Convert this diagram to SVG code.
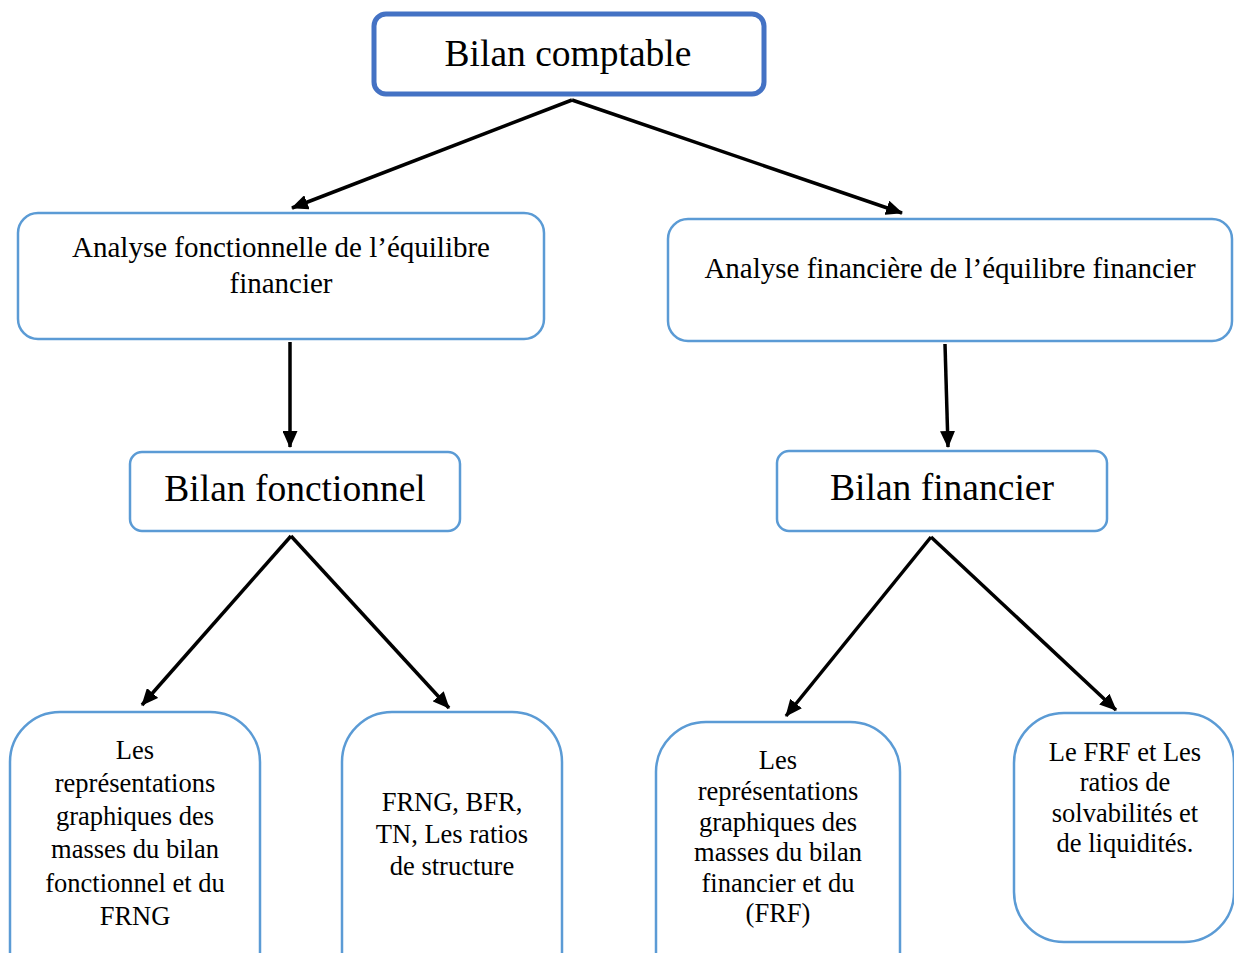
<svg xmlns="http://www.w3.org/2000/svg" width="1234" height="953" viewBox="0 0 1234 953">
<defs>
<marker id="ah" markerUnits="userSpaceOnUse" markerWidth="17" markerHeight="15" refX="16" refY="7.5" orient="auto">
<path d="M0,0 L17,7.5 L0,15 Z" fill="#000"/>
</marker>
<style>
.box{fill:#fff;stroke:#5B9BD5;stroke-width:2.5}
.top{fill:#fff;stroke:#4472C4;stroke-width:5}
text{font-family:"Liberation Serif","Times New Roman",serif;fill:#000;text-anchor:middle}
.big{font-size:37.5px}
.mid{font-size:29px}
.sm{font-size:26.5px}
.con line{stroke:#000;stroke-width:3.5;marker-end:url(#ah)}
</style>
</defs>
<rect width="1234" height="953" fill="#fff"/>
<g class="con">
<line x1="572" y1="100" x2="292" y2="208"/>
<line x1="572" y1="100" x2="902" y2="213"/>
<line x1="290" y1="342" x2="290" y2="447"/>
<line x1="945" y1="344" x2="948" y2="447"/>
<line x1="291" y1="536" x2="142" y2="705"/>
<line x1="291" y1="536" x2="449" y2="708"/>
<line x1="931" y1="537" x2="786" y2="716"/>
<line x1="931" y1="537" x2="1116" y2="710"/>
</g>
<g id="n-bilan-comptable">
<rect class="top" x="374" y="14" width="390" height="80" rx="12"/>
<text class="big" x="568" y="66">Bilan comptable</text>
</g>
<g id="n-analyse-fonctionnelle">
<rect class="box" x="18" y="213" width="526" height="126" rx="20"/>
<text class="mid" x="281" y="257">Analyse fonctionnelle de l’équilibre</text>
<text class="mid" x="281" y="293">financier</text>
</g>
<g id="n-analyse-financiere">
<rect class="box" x="668" y="219" width="564" height="122" rx="20"/>
<text class="mid" x="950" y="278">Analyse financière de l’équilibre financier</text>
</g>
<g id="n-bilan-fonctionnel">
<rect class="box" x="130" y="452" width="330" height="79" rx="12"/>
<text class="big" x="295" y="501">Bilan fonctionnel</text>
</g>
<g id="n-bilan-financier">
<rect class="box" x="777" y="451" width="330" height="80" rx="12"/>
<text class="big" x="942" y="500">Bilan financier</text>
</g>
<g id="n-repr-fonct">
<rect class="box" x="10" y="712" width="250" height="290" rx="50"/>
<text class="sm" x="135" y="759">Les</text>
<text class="sm" x="135" y="792">représentations</text>
<text class="sm" x="135" y="825">graphiques des</text>
<text class="sm" x="135" y="858">masses du bilan</text>
<text class="sm" x="135" y="892">fonctionnel et du</text>
<text class="sm" x="135" y="925">FRNG</text>
</g>
<g id="n-frng">
<rect class="box" x="342" y="712" width="220" height="290" rx="50"/>
<text class="sm" x="452" y="811">FRNG, BFR,</text>
<text class="sm" x="452" y="843">TN, Les ratios</text>
<text class="sm" x="452" y="875">de structure</text>
</g>
<g id="n-repr-fin">
<rect class="box" x="656" y="722" width="244" height="290" rx="50"/>
<text class="sm" x="778" y="769">Les</text>
<text class="sm" x="778" y="800">représentations</text>
<text class="sm" x="778" y="831">graphiques des</text>
<text class="sm" x="778" y="861">masses du bilan</text>
<text class="sm" x="778" y="892">financier et du</text>
<text class="sm" x="778" y="922">(FRF)</text>
</g>
<g id="n-frf">
<rect class="box" x="1014" y="713" width="220" height="229" rx="50"/>
<text class="sm" x="1125" y="761">Le FRF et Les</text>
<text class="sm" x="1125" y="791">ratios de</text>
<text class="sm" x="1125" y="822">solvabilités et</text>
<text class="sm" x="1125" y="852">de liquidités.</text>
</g>
</svg>
